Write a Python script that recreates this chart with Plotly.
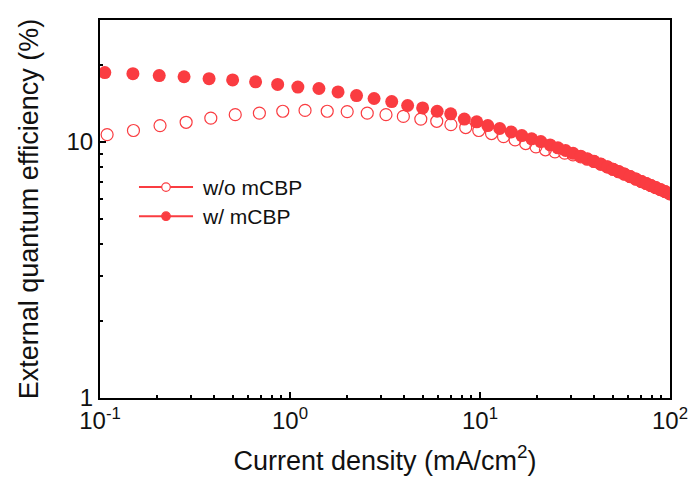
import plotly.graph_objects as go

# Current density (mA/cm^2) and EQE (%)
x_with = [0.106, 0.149, 0.205, 0.277, 0.375, 0.499, 0.659, 0.861, 1.10, 1.42, 1.79, 2.24, 2.77, 3.43,
          4.16, 4.99, 5.95, 7.01, 8.27, 9.61, 10.99, 12.7, 14.6, 16.6, 18.7, 20.9, 23.4,
          25.7, 28.2, 30.9, 33.9, 36.7, 39.8, 43.2, 46.8, 50.1, 53.7, 57.5, 61.7, 66.1, 70.8,
          75.0, 79.4, 84.1, 89.1, 94.4, 100.0]
eqe_with = [18.7, 18.5, 18.2, 18.0, 17.7, 17.5, 17.2, 16.8, 16.4, 16.2, 15.7, 15.2, 14.8, 14.4,
            13.9, 13.6, 13.2, 12.9, 12.3, 12.0, 11.6, 11.3, 10.95, 10.6, 10.3, 10.05, 9.75,
            9.50, 9.27, 9.04, 8.81, 8.61, 8.40, 8.20, 8.00, 7.83, 7.66, 7.50, 7.33, 7.17, 7.01,
            6.89, 6.76, 6.64, 6.52, 6.40, 6.28]

x_without = [0.109, 0.150, 0.207, 0.284, 0.383, 0.515, 0.690, 0.916, 1.20, 1.57, 2.00, 2.55, 3.20,
             3.95, 4.88, 5.92, 7.03, 8.41, 9.85, 11.5, 13.3, 15.3, 17.4, 19.7,
             22.1, 24.8, 27.9, 30.9, 33.9, 36.7, 39.8, 43.2, 46.8, 50.1, 53.7, 57.5, 61.7, 66.1, 70.8,
             75.0, 79.4, 84.1, 89.1, 94.4, 100.0]
eqe_without = [10.7, 11.1, 11.6, 11.95, 12.4, 12.8, 12.97, 13.2, 13.3, 13.2, 13.16, 12.97, 12.8,
               12.6, 12.3, 12.06, 11.7, 11.4, 11.1, 10.8, 10.5, 10.2, 9.87, 9.58,
               9.33, 9.16, 9.06, 8.91, 8.75, 8.57, 8.40, 8.20, 8.00, 7.83, 7.66, 7.50, 7.33, 7.17, 7.01,
               6.89, 6.76, 6.64, 6.52, 6.40, 6.28]

series_names = ["w/o mCBP", "w/ mCBP"]
x_tickvals = [0.1, 1, 10, 100]
x_ticktext = ["10<sup>-1</sup>", "10<sup>0</sup>", "10<sup>1</sup>", "10<sup>2</sup>"]
x_minor = [0.2, 0.3, 0.4, 0.5, 0.6, 0.7, 0.8, 0.9, 2, 3, 4, 5, 6, 7, 8, 9,
           20, 30, 40, 50, 60, 70, 80, 90]
y_tickvals = [1, 10]
y_ticktext = ["1", "10"]
y_minor = [2, 3, 4, 5, 6, 7, 8, 9, 20, 30]

RED = "#FA3C41"
TXT = "#111111"
FONT = "Arial, Liberation Sans, sans-serif"

fig = go.Figure()
fig.add_trace(go.Scatter(x=x_without, y=eqe_without, mode="markers", showlegend=False,
                         name=series_names[0],
                         marker=dict(symbol="circle-open", size=12, color=RED,
                                     line=dict(width=1.2, color=RED))))
fig.add_trace(go.Scatter(x=x_with, y=eqe_with, mode="markers", showlegend=False,
                         name=series_names[1],
                         marker=dict(symbol="circle", size=13, color=RED, line=dict(width=0))))

# hand-drawn legend (paper coordinates) to match the long legend line of the reference
legend_rows = [0.558, 0.481]
shapes = []
annotations = []
for i, (name, yy) in enumerate(zip(series_names, legend_rows)):
    shapes.append(dict(type="line", xref="paper", yref="paper", x0=0.0684, x1=0.1632,
                       y0=yy, y1=yy, line=dict(color=RED, width=2)))
    rx, ry = 0.0075, 0.0113
    shapes.append(dict(type="circle", xref="paper", yref="paper",
                       x0=0.1158 - rx, x1=0.1158 + rx, y0=yy - ry, y1=yy + ry,
                       fillcolor="white" if i == 0 else RED,
                       line=dict(color=RED, width=1.2)))
    annotations.append(dict(text=name, xref="paper", yref="paper", x=0.1754, y=yy,
                            xanchor="left", yanchor="middle", showarrow=False,
                            font=dict(family=FONT, size=21, color=TXT)))

axis_common = dict(showline=True, linecolor="black", linewidth=2, mirror=True,
                   ticks="inside", tickcolor="black", tickwidth=1.5, ticklen=6,
                   showgrid=False, zeroline=False, ticklabeloverflow="allow",
                   tickfont=dict(family=FONT, size=24, color=TXT))

fig.update_xaxes(type="log", range=[-1, 2], tickvals=x_tickvals, ticktext=x_ticktext,
                 minor=dict(tickvals=x_minor, ticks="inside", ticklen=3, tickcolor="black", tickwidth=1.5),
                 title=dict(text="Current density (mA/cm<sup>2</sup>)",
                            font=dict(family=FONT, size=27, color=TXT), standoff=18),
                 **axis_common)
fig.update_yaxes(type="log", range=[0, 1.4771], tickvals=y_tickvals, ticktext=y_ticktext,
                 minor=dict(tickvals=y_minor, ticks="inside", ticklen=3, tickcolor="black", tickwidth=1.5),
                 title=dict(text="External quantum efficiency (%)",
                            font=dict(family=FONT, size=27, color=TXT), standoff=20),
                 **axis_common)

fig.update_layout(width=688, height=478, margin=dict(l=100, r=18, t=20, b=80, autoexpand=False),
                  plot_bgcolor="white", paper_bgcolor="white", showlegend=False,
                  shapes=shapes, annotations=annotations)

fig.write_html("out.html")
